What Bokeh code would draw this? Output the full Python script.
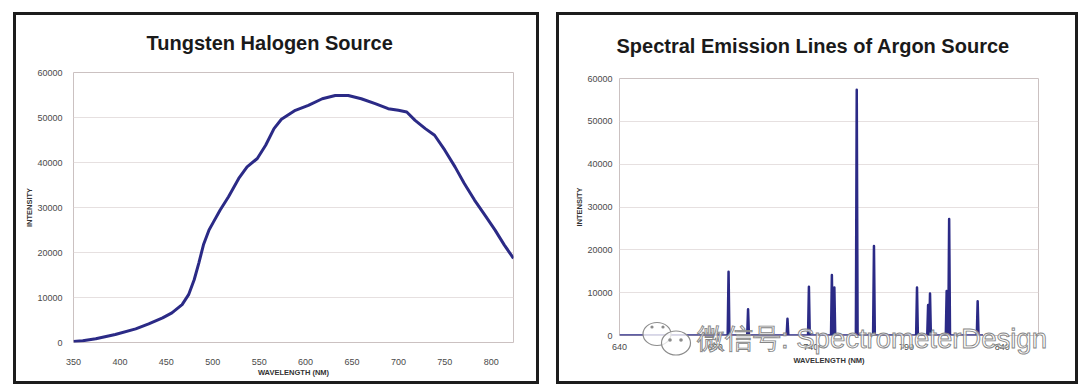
from bokeh.plotting import figure
from bokeh.models import FixedTicker, Range1d, Div, Spacer
from bokeh.layouts import row, column
from bokeh.embed import file_html
from bokeh.resources import INLINE

# ---------------- data ----------------
tung_title = "Tungsten Halogen Source"
tung_wl = [350, 360, 374, 395, 417, 431, 446, 456, 467, 474, 480, 485, 490, 496,
           501, 508, 517, 528, 537, 548, 557, 566, 574, 589, 603, 618, 632, 646,
           660, 675, 689, 700, 709, 718, 729, 739, 750, 761, 771, 782, 793, 804,
           814, 824]
tung_int = [200, 400, 820, 1770, 3030, 4140, 5460, 6570, 8410, 10630, 13950,
            17640, 21700, 25020, 26860, 29450, 32400, 36460, 39030, 40890, 43840,
            47530, 49600, 51590, 52690, 54170, 54900, 54900, 54170, 53070, 51960,
            51590, 51220, 49370, 47530, 46050, 42730, 39030, 35350, 31660, 28340,
            25020, 21700, 18700]
tung_xticks = [350, 400, 450, 500, 550, 600, 650, 700, 750, 800]

ar_title = "Spectral Emission Lines of Argon Source"
ar_wl = [697.0, 707.2, 727.8, 739.0, 751.0, 752.3, 764.0, 773.0, 795.5, 801.3,
         802.3, 811.0, 812.3, 827.2]
ar_int = [14900, 6100, 3900, 11400, 14100, 11200, 57400, 20900, 11200, 7100,
          9800, 10400, 27200, 8000]
ar_start, ar_end = 640, 830
ar_xticks = [640, 690, 740, 790, 840]

y_ticks = [0, 10000, 20000, 30000, 40000, 50000, 60000]
x_label = "WAVELENGTH (NM)"
y_label = "INTENSITY"
wm_prefix = "微信号: "
wm_name = "SpectrometerDesign"

LINE = "#2b2a86"
FONT = "Liberation Sans"


def style(p, xticks, xstand, xlabstand, ystand, ylabstand, t_off, t_stand):
    p.outline_line_color = "#cbc1c1"
    p.outline_line_width = 1
    p.background_fill_color = "white"
    p.border_fill_color = "white"
    p.xgrid.grid_line_color = None
    p.ygrid.grid_line_color = "#e6e0e0"
    p.xaxis.ticker = FixedTicker(ticks=xticks)
    p.yaxis.ticker = FixedTicker(ticks=y_ticks)
    for ax in (p.xaxis[0], p.yaxis[0]):
        ax.axis_line_color = None
        ax.major_tick_line_color = None
        ax.minor_tick_line_color = None
        ax.major_label_text_font = FONT
        ax.major_label_text_font_size = "9px"
        ax.major_label_text_color = "#4a4a4a"
        ax.axis_label_text_font = FONT
        ax.axis_label_text_font_size = "7.5px"
        ax.axis_label_text_font_style = "bold"
        ax.axis_label_text_color = "#333333"
    p.xaxis.axis_label = x_label
    p.yaxis.axis_label = y_label
    p.xaxis.major_label_standoff = xstand
    p.xaxis.axis_label_standoff = xlabstand
    p.yaxis.major_label_standoff = ystand
    p.yaxis.axis_label_standoff = ylabstand
    p.title.text_font = FONT
    p.title.text_font_size = "20px"
    p.title.text_font_style = "bold"
    p.title.text_color = "#1a1a1a"
    p.title.text_line_height = 0.9
    p.title.align = "left"
    p.title.offset = t_off
    p.title.standoff = t_stand


# ---------------- left chart ----------------
p1 = figure(width=526, height=372, output_backend="svg", toolbar_location=None,
            title=tung_title,
            x_range=Range1d(350, 824), y_range=Range1d(0, 60000),
            min_border_left=65, min_border_right=21, min_border_top=65,
            min_border_bottom=36)
style(p1, tung_xticks, 10, 0, 5, 0, 73, 38)
p1.line(tung_wl, tung_int, line_color=LINE, line_width=3, line_join="round")

# ---------------- right chart ----------------
hw = 0.45
ax_x = [ar_start]
ax_y = [0]
for w, h in zip(ar_wl, ar_int):
    ax_x += [w - hw, w, w + hw]
    ax_y += [0, h, 0]
ax_x.append(ar_end)
ax_y.append(0)

p2 = figure(width=521, height=372, output_backend="svg", toolbar_location=None,
            title=ar_title,
            x_range=Range1d(640, 859), y_range=Range1d(0, 60000),
            min_border_left=67, min_border_right=35, min_border_top=71,
            min_border_bottom=44)
style(p2, ar_xticks, 2, 3, 1, 0, -3, 44)
p2.line(ax_x, ax_y, line_color=LINE, line_width=2.5, line_join="round")

# ---------------- overlays: panel boxes and watermark ----------------
def box(left, width):
    return Div(text="", width=width, height=372,
               styles={"position": "absolute", "left": f"{left}px", "top": "7px",
                       "border": "3px solid #1c1c1c", "box-sizing": "border-box",
                       "z-index": "5", "pointer-events": "none",
                       "background": "transparent"})


wm_svg = (
    '<svg xmlns="http://www.w3.org/2000/svg" width="440" height="44">'
    '<g fill="white" fill-opacity="0.75" stroke="#8c8c8c" stroke-width="1.2">'
    '<ellipse cx="16" cy="15" rx="14" ry="11.5"/>'
    '<ellipse cx="35" cy="24" rx="14.5" ry="12"/>'
    '</g>'
    '<g fill="#8c8c8c">'
    '<circle cx="11" cy="8" r="1.6"/><circle cx="22" cy="8" r="1.6"/>'
    '<circle cx="29" cy="21" r="1.8"/><circle cx="40" cy="21" r="1.8"/>'
    '</g>'
    '<text x="56" y="29" font-family="Noto Sans CJK SC" font-size="27.5" '
    'font-weight="300" fill="white" fill-opacity="0.7" stroke="#858585" '
    'stroke-width="0.9">' + wm_prefix + wm_name + '</text>'
    '</svg>'
)
wm = Div(text=wm_svg, width=440, height=44,
         styles={"position": "absolute", "left": "636px", "top": "314px",
                 "z-index": "10", "pointer-events": "none"})

layout = column(Spacer(height=7),
                row(Spacer(width=8), column(p1), Spacer(width=18), column(p2)),
                box(8, 526), box(551, 522), wm)
open("out.html", "w").write(file_html(layout, INLINE))
